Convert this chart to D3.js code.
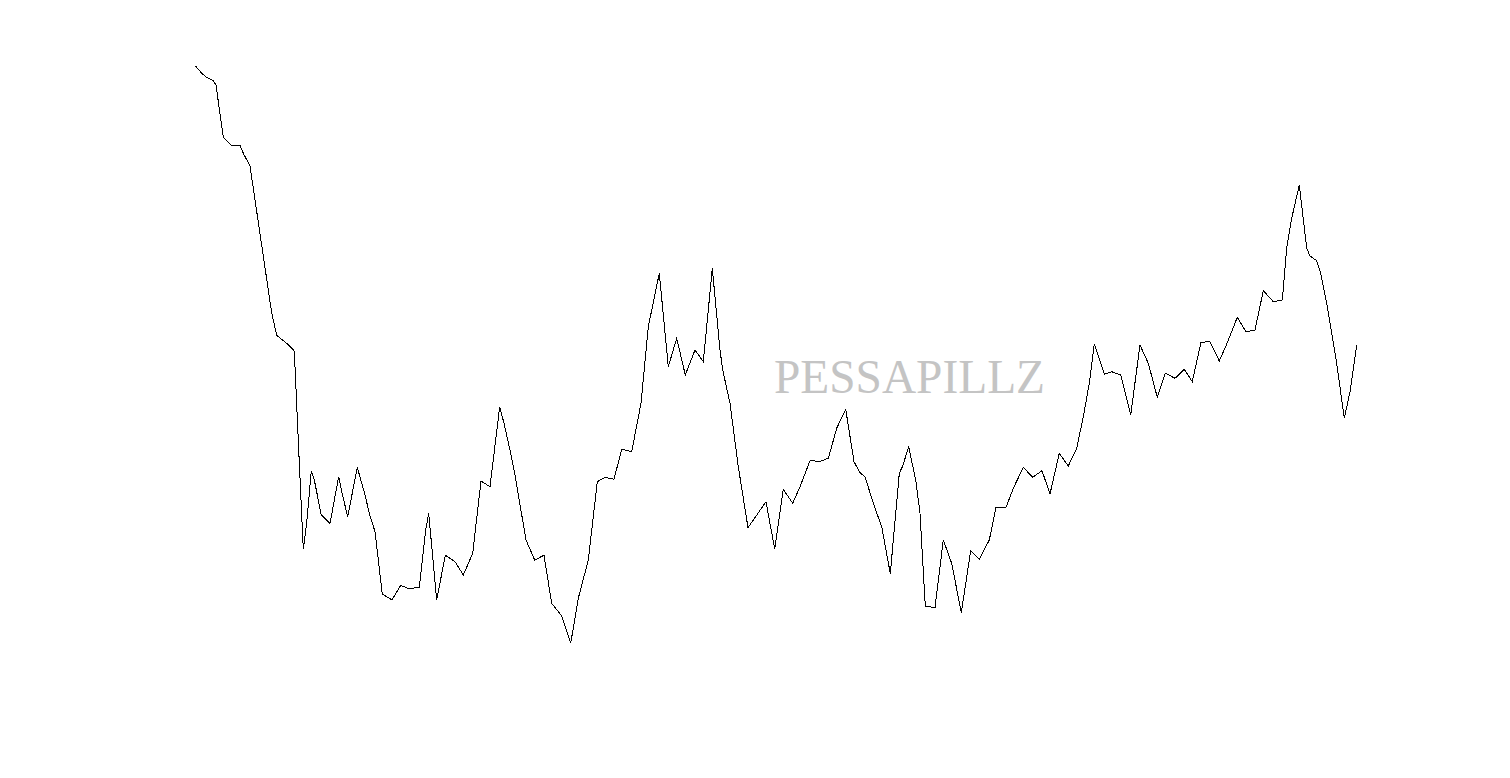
<!DOCTYPE html>
<html>
<head>
<meta charset="utf-8">
<script src="https://cdn.jsdelivr.net/npm/d3@7"></script>
<style>
  html, body { margin: 0; padding: 0; background: #fff; }
  svg { display: block; }
</style>
</head>
<body>
<svg id="chart" width="1510" height="778"></svg>
<script>
// Time offsets (arbitrary units) and series values
const days = [0.3, 6.7, 11.7, 18.3, 21, 28.3, 36.7, 45, 48.3, 55, 76.7, 81.7, 91.7, 99.3, 104.3, 108.3,
  111.7, 116.3, 119.3, 126.3, 135, 143.7, 146.7, 152.7, 162.3, 170, 174.3, 180, 187.3, 197, 205.7,
  213.7, 224.3, 230.7, 233.7, 241.7, 250.3, 260, 268.3, 277.7, 286, 295, 304.7, 309, 315, 320, 331,
  339.7, 349, 356.7, 366.7, 375.7, 383.3, 393.3, 402.3, 410, 419, 426.7, 436.7, 446, 453.3, 464.3,
  473.3, 481.7, 490.3, 500, 508.3, 517.3, 525, 527.7, 535, 543.3, 553, 571, 579.7, 588.3, 597.7, 605,
  615, 625, 633.3, 641.7, 650.7, 659, 665, 670, 678.3, 686.7, 695.3, 704.3, 707.7, 713.7, 721, 725,
  730.3, 740, 748.3, 756.7, 766.3, 775.7, 784.3, 794.3, 801, 811, 818.3, 828.3, 837.7, 847, 855, 864.3,
  873.3, 881.7, 888.3, 894.3, 899.3, 909.3, 916.7, 925.7, 935.7, 945, 953.3, 962.3, 970.3, 980, 989.3,
  997.3, 1006, 1015, 1024.3, 1032.3, 1042.3, 1051, 1060, 1068.3, 1078.3, 1087.3, 1091.7, 1096.7,
  1104.3, 1111.7, 1115, 1121.7, 1125.7, 1131.7, 1141.7, 1149.3, 1155, 1161.7];

const values = [63.43, 62.67, 62.27, 61.93, 61.5, 56.27, 55.43, 55.47, 54.67, 53.4, 38.7, 36.47, 35.67,
  34.9, 23.7, 15.07, 17.7, 22.93, 22.0, 18.5, 17.67, 22.33, 20.83, 18.33, 23.27, 20.5, 18.67, 16.83,
  10.6, 10.0, 11.47, 11.13, 11.27, 17.0, 18.67, 10.0, 14.47, 13.83, 12.5, 14.67, 21.9, 21.33, 29.33,
  27.67, 25.0, 22.5, 16.0, 14.0, 14.47, 9.67, 8.4, 5.67, 10.17, 14.0, 21.83, 22.27, 22.07, 25.07,
  24.83, 29.67, 37.33, 42.67, 33.33, 36.17, 32.5, 35.0, 33.83, 43.17, 35.0, 33.0, 29.67, 23.33, 17.23,
  19.83, 15.1, 21.07, 19.67, 21.33, 23.93, 23.87, 24.17, 27.17, 29.07, 23.83, 22.73, 22.33, 19.67,
  17.33, 12.65, 22.67, 23.4, 25.33, 21.83, 18.67, 9.4, 9.23, 16.0, 13.67, 8.73, 14.93, 14.1, 16.0,
  19.27, 19.27, 21.17, 23.27, 22.27, 22.93, 20.6, 24.67, 23.4, 25.17, 28.33, 31.67, 35.6, 32.57,
  32.83, 32.5, 28.5, 35.5, 33.67, 30.27, 32.7, 32.17, 33.07, 31.83, 35.77, 35.83, 33.9, 35.73, 38.27,
  36.83, 37.0, 40.93, 39.83, 40.0, 45.17, 48.17, 51.5, 45.17, 44.4, 43.93, 42.67, 39.67, 33.67, 28.17,
  30.83, 35.5];

const watermark = "PESSAPILLZ";

const svg = d3.select("#chart");

const x = d3.scaleLinear().domain([0, 1161.7]).range([195, 1356.7]);
const y = d3.scaleLinear().domain([0, 65]).range([700, 50]);

const data = days.map((d, i) => ({ t: d, v: values[i] }));

svg.append("text")
  .attr("x", 774)
  .attr("y", 393)
  .attr("font-family", "'Liberation Serif', 'Times New Roman', serif")
  .attr("font-size", 48)
  .attr("textLength", 271)
  .attr("lengthAdjust", "spacingAndGlyphs")
  .attr("fill", "#c4c4c4")
  .text(watermark);

const line = d3.line().x(d => x(d.t)).y(d => y(d.v));

svg.append("path")
  .datum(data)
  .attr("d", line)
  .attr("fill", "none")
  .attr("stroke", "#000")
  .attr("stroke-width", 1)
  .attr("shape-rendering", "crispEdges");
</script>
</body>
</html>
